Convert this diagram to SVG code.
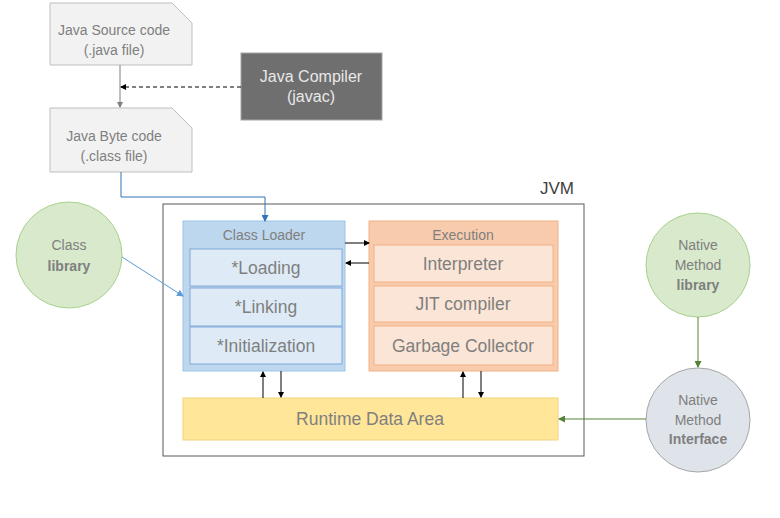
<svg xmlns="http://www.w3.org/2000/svg" width="780" height="518" viewBox="0 0 780 518">
<style>
text{font-family:"Liberation Sans","Open Sans",sans-serif;text-anchor:middle}
.doc{fill:#f2f2f2;stroke:#bfbfbf;stroke-width:1}
.t{fill:#7f7f7f;font-size:14px}
.tb{fill:#7f7f7f;font-size:14px;font-weight:bold}
.s{fill:#7f7f7f;font-size:17.5px}
.sub{fill:#deebf7;stroke:#7fa9d6;stroke-width:1}
.esub{fill:#fbe5d6;stroke:#f4b183;stroke-width:1}
.k{stroke:#000;stroke-width:1;fill:none}
</style>
<defs>
<marker id="ak" markerWidth="6" markerHeight="6" refX="5" refY="3" orient="auto" markerUnits="userSpaceOnUse"><path d="M0,0 L6,3 L0,6 z" fill="#000"/></marker>
<marker id="ag" markerWidth="6" markerHeight="6" refX="5" refY="3" orient="auto" markerUnits="userSpaceOnUse"><path d="M0,0 L6,3 L0,6 z" fill="#7f7f7f"/></marker>
<marker id="ab" markerWidth="7" markerHeight="7" refX="6" refY="3.5" orient="auto" markerUnits="userSpaceOnUse"><path d="M0,0 L7,3.5 L0,7 z" fill="#2e75b6"/></marker>
<marker id="ab2" markerWidth="7" markerHeight="7" refX="6" refY="3.5" orient="auto" markerUnits="userSpaceOnUse"><path d="M0,0 L7,3.5 L0,7 z" fill="#5b9bd5"/></marker>
<marker id="agr" markerWidth="7" markerHeight="7" refX="6" refY="3.5" orient="auto" markerUnits="userSpaceOnUse"><path d="M0,0 L7,3.5 L0,7 z" fill="#548235"/></marker>
</defs>

<g id="source">
<path class="doc" d="M50,3 H172 L192,23 V65 H50 Z"/>
<text class="t" x="114" y="35">Java Source code</text>
<text class="t" x="114" y="55">(.java file)</text>
</g>
<g id="compiler">
<rect x="241" y="53" width="141" height="67" fill="#6f6f6f" stroke="#a6a6a6"/>
<text x="311" y="82" fill="#e8e8e8" font-size="16">Java Compiler</text>
<text x="311" y="102" fill="#e8e8e8" font-size="16">(javac)</text>
</g>
<g id="bytecode">
<path class="doc" d="M50,108 H172 L192,128 V172 H50 Z"/>
<text class="t" x="114" y="141">Java Byte code</text>
<text class="t" x="114" y="161">(.class file)</text>
</g>
<g id="classlib">
<circle cx="69" cy="255" r="53" fill="#d8e9cc" stroke="#a9d18e"/>
<text class="t" x="69" y="250">Class</text>
<text class="tb" x="69" y="271">library</text>
</g>
<g id="jvm">
<rect x="163" y="204" width="421" height="252" fill="#fff" stroke="#595959"/>
<text x="557" y="194" font-size="17" fill="#404040">JVM</text>
</g>
<g id="classloader">
<rect x="183" y="221" width="162" height="150" fill="#bdd7ee" stroke="#9dc3e6"/>
<text class="t" x="264" y="240" font-size="13">Class Loader</text>
<rect class="sub" x="190" y="249" width="152" height="37"/>
<text class="s" x="266" y="274">*Loading</text>
<rect class="sub" x="190" y="288" width="152" height="38"/>
<text class="s" x="266" y="313">*Linking</text>
<rect class="sub" x="190" y="327" width="152" height="37"/>
<text class="s" x="266" y="352">*Initialization</text>
</g>
<g id="execution">
<rect x="369" y="221" width="189" height="150" fill="#f8cbad" stroke="#f4b183"/>
<text class="t" x="463" y="240" font-size="13">Execution</text>
<rect class="esub" x="374" y="245" width="179" height="37"/>
<text class="s" x="463" y="270">Interpreter</text>
<rect class="esub" x="374" y="286" width="179" height="36"/>
<text class="s" x="463" y="310">JIT compiler</text>
<rect class="esub" x="374" y="326" width="179" height="39"/>
<text class="s" x="463" y="352">Garbage Collector</text>
</g>
<g id="runtime">
<rect x="183" y="398" width="375" height="42" fill="#ffe699" stroke="#f2d47c"/>
<text class="s" x="370" y="425">Runtime Data Area</text>
</g>
<g id="nmlib">
<circle cx="698" cy="265" r="52" fill="#d8e9cc" stroke="#a9d18e"/>
<text class="t" x="698" y="250">Native</text>
<text class="t" x="698" y="270">Method</text>
<text class="tb" x="698" y="290">library</text>
</g>
<g id="nmi">
<circle cx="698" cy="420" r="52" fill="#dfe3ea" stroke="#a6a6a6"/>
<text class="t" x="698" y="405">Native</text>
<text class="t" x="698" y="425">Method</text>
<text class="tb" x="698" y="444">Interface</text>
</g>

<g id="connectors">
<line x1="120" y1="65" x2="120" y2="107" stroke="#7f7f7f" marker-end="url(#ag)"/>
<line x1="241" y1="87" x2="121" y2="87" stroke="#000" stroke-dasharray="4,3" marker-end="url(#ak)"/>
<path d="M121,172 V197 H265 V221" fill="none" stroke="#2e75b6" marker-end="url(#ab)"/>
<line x1="122" y1="257" x2="183" y2="296" stroke="#5b9bd5" marker-end="url(#ab2)"/>
<line class="k" x1="345" y1="243" x2="369" y2="243" marker-end="url(#ak)"/>
<line class="k" x1="369" y1="263" x2="346" y2="263" marker-end="url(#ak)"/>
<line class="k" x1="263" y1="398" x2="263" y2="372" marker-end="url(#ak)"/>
<line class="k" x1="281" y1="371" x2="281" y2="397" marker-end="url(#ak)"/>
<line class="k" x1="463" y1="398" x2="463" y2="372" marker-end="url(#ak)"/>
<line class="k" x1="481" y1="371" x2="481" y2="397" marker-end="url(#ak)"/>
<line x1="698" y1="317" x2="698" y2="367" stroke="#548235" marker-end="url(#agr)"/>
<line x1="646" y1="419" x2="559" y2="419" stroke="#548235" marker-end="url(#agr)"/>
</g>
</svg>
